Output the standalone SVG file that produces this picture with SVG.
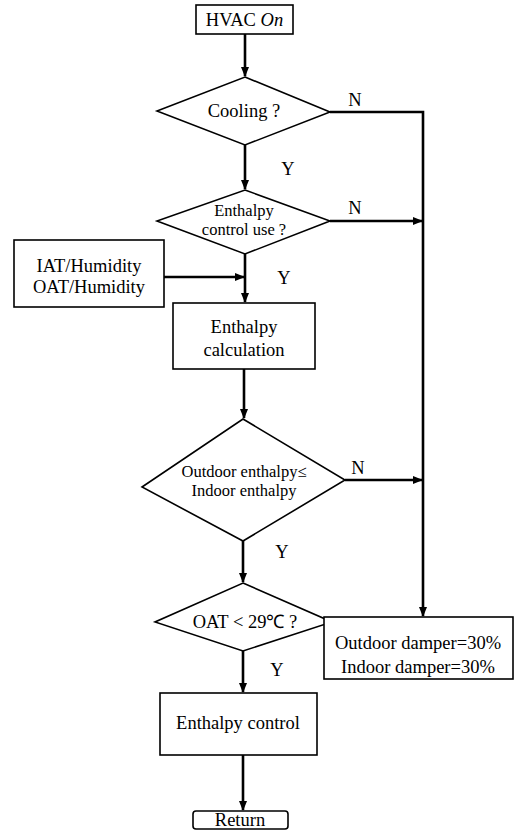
<svg xmlns="http://www.w3.org/2000/svg" width="518" height="833" viewBox="0 0 518 833">
<defs>
<marker id="ah" markerWidth="10" markerHeight="8" refX="9" refY="4" orient="auto" markerUnits="userSpaceOnUse">
<path d="M0,0 L10,4 L0,8 Z" fill="#000"/>
</marker>
<style>
.box{fill:#fff;stroke:#000;stroke-width:1.6}
.t{font-family:"Liberation Serif","Times New Roman",serif;font-size:18.5px;fill:#000;text-anchor:middle}
.s{font-size:16.5px}
.c{fill:none;stroke:#000;stroke-width:2.6}
</style>
</defs>
<rect width="518" height="833" fill="#fff"/>
<g id="connectors">
<line class="c" x1="245" y1="34" x2="245" y2="76" marker-end="url(#ah)"/>
<line class="c" x1="245" y1="145" x2="245" y2="189" marker-end="url(#ah)"/>
<line class="c" x1="245" y1="254" x2="245" y2="302" marker-end="url(#ah)"/>
<line class="c" x1="164" y1="277" x2="244" y2="277" marker-end="url(#ah)"/>
<line class="c" x1="244" y1="369" x2="244" y2="418" marker-end="url(#ah)"/>
<line class="c" x1="243" y1="541" x2="243" y2="582" marker-end="url(#ah)"/>
<line class="c" x1="243" y1="651" x2="243" y2="692" marker-end="url(#ah)"/>
<line class="c" x1="243" y1="755" x2="243" y2="810" marker-end="url(#ah)"/>
<polyline class="c" points="330,112 423,112 423,616" marker-end="url(#ah)"/>
<line class="c" x1="330" y1="221" x2="422" y2="221" marker-end="url(#ah)"/>
<line class="c" x1="345" y1="480" x2="422" y2="480" marker-end="url(#ah)"/>
<text class="t" x="355" y="106">N</text>
<text class="t" x="288" y="175">Y</text>
<text class="t" x="355" y="214">N</text>
<text class="t" x="284" y="284">Y</text>
<text class="t" x="358" y="474">N</text>
<text class="t" x="282" y="558">Y</text>
<text class="t" x="277" y="676">Y</text>
</g>
<g id="start">
<rect class="box" x="196" y="5" width="97" height="29"/>
<text class="t" x="244.5" y="26">HVAC <tspan font-style="italic">On</tspan></text>
</g>
<g id="cooling">
<polygon class="box" points="245,77 330,112 245,145 157,111"/>
<text class="t" x="244" y="117">Cooling ?</text>
</g>
<g id="enthalpy-use">
<polygon class="box" points="245,190 330,221 245,254 157,221"/>
<text class="t s" x="244" y="216">Enthalpy</text>
<text class="t s" x="244" y="235">control use ?</text>
</g>
<g id="inputs">
<rect class="box" x="14" y="240" width="150" height="67"/>
<text class="t" x="89" y="272">IAT/Humidity</text>
<text class="t" x="89" y="293">OAT/Humidity</text>
</g>
<g id="calc">
<rect class="box" x="173" y="303" width="142" height="66"/>
<text class="t" x="244" y="333">Enthalpy</text>
<text class="t" x="244" y="356">calculation</text>
</g>
<g id="compare">
<polygon class="box" points="243,419 345,480 243,541 142,487"/>
<text class="t s" x="244" y="477">Outdoor enthalpy≤</text>
<text class="t s" x="244" y="496">Indoor enthalpy</text>
</g>
<g id="oat">
<polygon class="box" points="243,583 332,622 243,651 155,622"/>
<text class="t" x="245" y="628">OAT &lt; 29℃ ?</text>
</g>
<g id="damper">
<rect class="box" x="324" y="617" width="189" height="62"/>
<text class="t" x="418" y="649">Outdoor damper=30%</text>
<text class="t" x="418" y="673">Indoor damper=30%</text>
</g>
<g id="control">
<rect class="box" x="160" y="693" width="157" height="62"/>
<text class="t" x="238" y="729">Enthalpy control</text>
</g>
<g id="return">
<rect class="box" x="193" y="811" width="95" height="18" rx="3"/>
<text class="t" x="240" y="826">Return</text>
</g>
</svg>
